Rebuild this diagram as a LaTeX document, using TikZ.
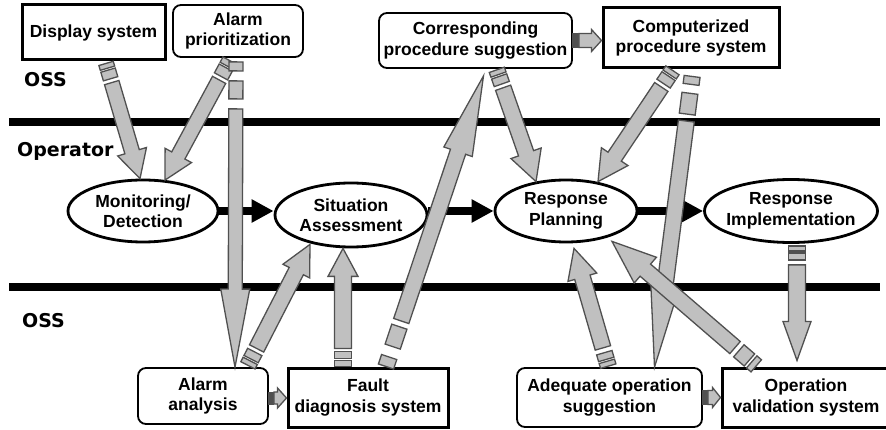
\documentclass[tikz,border=0pt]{standalone}
\usepackage{fontspec}
\setmainfont{Liberation Sans}
\newfontfamily\lblfont{DejaVu Sans}
\usetikzlibrary{shapes.geometric,arrows.meta,calc}
\definecolor{arrowgray}{RGB}{192,192,192}
\definecolor{arrowedge}{RGB}{80,80,80}

\tikzset{
  txt/.style={font=\fontsize{17.5}{20.5}\selectfont\bfseries, align=center},
  sysbox/.style={txt, draw, line width=3pt, fill=white, inner sep=1pt},
  funcbox/.style={txt, draw, line width=1.8pt, rounded corners=8pt, fill=white, inner sep=1pt},
  stage/.style={ellipse, draw, line width=2.8pt, fill=white, inner sep=0pt},
  zone/.style={font=\lblfont\fontsize{19}{22}\selectfont\bfseries, anchor=west, inner sep=0pt},
  divider/.style={line width=8pt},
  flow/.style={line width=7.5pt, -{Triangle[length=22pt,width=22pt]}},
  garrow/.style={fill=arrowgray, draw=arrowedge, line width=1.3pt, line join=miter},
  darkpiece/.style={fill=arrowedge, draw=arrowedge, line width=1pt},
}

% #1 from, #2 to, #3 half shaft, #4 half head, #5 head length,
% #6 shaft start, #7 pieces a/b, #8 piece style
\newcommand\garrow[8]{%
  \path (#1); \pgfgetlastxy{\gax}{\gay}%
  \path (#2); \pgfgetlastxy{\gbx}{\gby}%
  \pgfmathsetmacro\gang{atan2(\gby-\gay,\gbx-\gax)}%
  \pgfmathsetmacro\glen{veclen(\gbx-\gax,\gby-\gay)}%
  \pgfmathsetmacro\gbase{\glen-#5}%
  \begin{scope}[shift={(#1)},rotate=\gang]
    \foreach \pa/\pb in {#7}{\draw[#8] (\pa pt,-#3pt) -- (\pb pt,-#3pt) -- (\pb pt,#3pt) -- (\pa pt,#3pt) -- cycle;}
    \draw[garrow] (#6pt,-#3pt) -- (\gbase pt,-#3pt) -- (\gbase pt,-#4pt) -- (\glen pt,0pt)
      -- (\gbase pt,#4pt) -- (\gbase pt,#3pt) -- (#6pt,#3pt) -- cycle;
  \end{scope}}

\begin{document}
\begin{tikzpicture}[x=1pt,y=-1pt]
\useasboundingbox (0,0) rectangle (886,430);
\clip (0,0) rectangle (886,430);
\fill[white] (0,0) rectangle (886,430);

% dividers
\draw[divider] (9,122) -- (880,122);
\draw[divider] (9,287) -- (880,287);

% zone labels
\node[zone] (oss1) at (24,79.5) {OSS};
\node[zone] (op) at (17,151) {Operator};
\node[zone] (oss2) at (22,321) {OSS};

% top systems
\node[sysbox, minimum width=143, minimum height=55] (disp) at (93.5,32.5) {Display system};
\node[funcbox, minimum width=130, minimum height=52] (aprio) at (238,31) {Alarm\\prioritization};
\node[funcbox, minimum width=193, minimum height=55] (corr) at (475.5,40.5) {Corresponding\\procedure suggestion};
\node[sysbox, minimum width=176, minimum height=60] (comp) at (691,38) {Computerized\\procedure system};

% operator stages
\node[stage, minimum width=150, minimum height=62, label={[txt]center:Monitoring/\\Detection}] (mon) at (143,211) {};
\node[stage, minimum width=152, minimum height=64, label={[txt]center:Situation\\Assessment}] (sit) at (351,215) {};
\node[stage, minimum width=142, minimum height=62, label={[txt]center:Response\\Planning}] (rp) at (566,211) {};
\node[stage, minimum width=173, minimum height=63, label={[txt]center:Response\\Implementation}] (ri) at (791,211) {};

% bottom systems
\node[funcbox, minimum width=130, minimum height=56] (aan) at (203,396) {Alarm\\analysis};
\node[sysbox, minimum width=160, minimum height=59] (fds) at (368,397.5) {Fault\\diagnosis system};
\node[funcbox, minimum width=185, minimum height=59] (aos) at (609.5,397.5) {Adequate operation\\suggestion};
\node[sysbox, minimum width=168, minimum height=59] (ovs) at (806,397.5) {Operation\\validation system};

% operator flow
\draw[flow] (mon.east) -- (mon.east -| sit.west);
\draw[flow] (sit.east |- rp.west) -- (rp.west);
\draw[flow] (rp.east) -- (ri.west);

% arrow end points
\coordinate (a1s) at ([xshift=12pt]disp.south);
\coordinate (a1e) at ([xshift=-3pt]mon.north);
\coordinate (a2s) at ([xshift=-7pt]aprio.south);
\coordinate (a2e) at ([xshift=22pt,yshift=-1.5pt]mon.north);
\coordinate (a3s) at ([xshift=-2pt]aprio.south);
\coordinate (a3e) at ([xshift=32pt]aan.north);
\coordinate (a4s) at ([xshift=44pt]aan.north);
\coordinate (a4e) at ([xshift=-41pt,yshift=4pt]sit.south);
\coordinate (a5s) at ([xshift=-25pt]fds.north);
\coordinate (a5e) at ([xshift=-8pt]sit.south);
\coordinate (a6s) at ([xshift=18pt]fds.north);
\coordinate (a6e) at ([xshift=8pt,yshift=-7pt]corr.south);
\coordinate (a7s) at ([xshift=21pt]corr.south);
\coordinate (a7e) at ([xshift=-30pt,yshift=-3pt]rp.north);
\coordinate (a8s) at ([xshift=-18pt]comp.south);
\coordinate (a8e) at ([xshift=32pt,yshift=-3pt]rp.north);
\coordinate (a9s) at ([xshift=2pt]comp.south);
\coordinate (a9e) at ([xshift=45pt]aos.north);
\coordinate (a10s) at ([xshift=-1pt]aos.north);
\coordinate (a10e) at ([xshift=8pt,yshift=-5pt]rp.south);
\coordinate (a11s) at ([xshift=-49pt]ovs.north);
\coordinate (a11e) at ([xshift=46pt,yshift=2pt]rp.south);
\coordinate (a12s) at ([xshift=6pt,yshift=-2pt]ri.south);
\coordinate (a12e) at ([xshift=-9pt,yshift=6pt]ovs.north);
\coordinate (a13e) at ([yshift=-2.5pt]comp.west);
\coordinate (a14s) at ([yshift=-2pt]aan.east);
\coordinate (a14e) at ([yshift=-0.5pt]fds.west);

% gray information arrows
\garrow{a1s}{a1e}{7.5}{15}{28}{22}{2/7,9/18}{garrow}
\garrow{a2s}{a2e}{7.5}{15}{28}{25}{3/9,11/21}{garrow}
\garrow{a3s}{a3e}{7}{14.5}{78}{51}{4/13,23/41}{garrow}
\garrow{a4s}{a4e}{8}{15}{30}{21}{2/7,9/17}{garrow}
\garrow{a5s}{a5e}{8.5}{15}{28}{18}{0/6,8/15}{garrow}
\garrow{a6s}{a6e}{8}{15}{80}{48}{0/10,21/42}{garrow}
\garrow{a7s}{a7e}{8}{16}{30}{20}{1/6,8/16}{garrow}
\garrow{a8s}{a8e}{8}{16}{30}{21}{1/6,8/17}{garrow}
\garrow{a9s}{a9e}{8}{14}{80}{52}{7/15,24/45}{garrow}
\garrow{a10s}{a10e}{8}{15}{30}{20}{1/6,8/15}{garrow}
\garrow{a11s}{a11e}{8}{17}{44}{29}{1/7,10/24}{garrow}
\garrow{a12s}{a12e}{8.5}{14}{39}{19}{0/5,7/14}{garrow}
\garrow{corr.east}{a13e}{7}{11}{10}{6}{0/6}{darkpiece}
\garrow{a14s}{a14e}{6}{10}{9}{5}{0/5}{darkpiece}
\garrow{aos.east}{ovs.west}{7}{10}{8}{5}{0/5}{darkpiece}
\end{tikzpicture}
\end{document}
